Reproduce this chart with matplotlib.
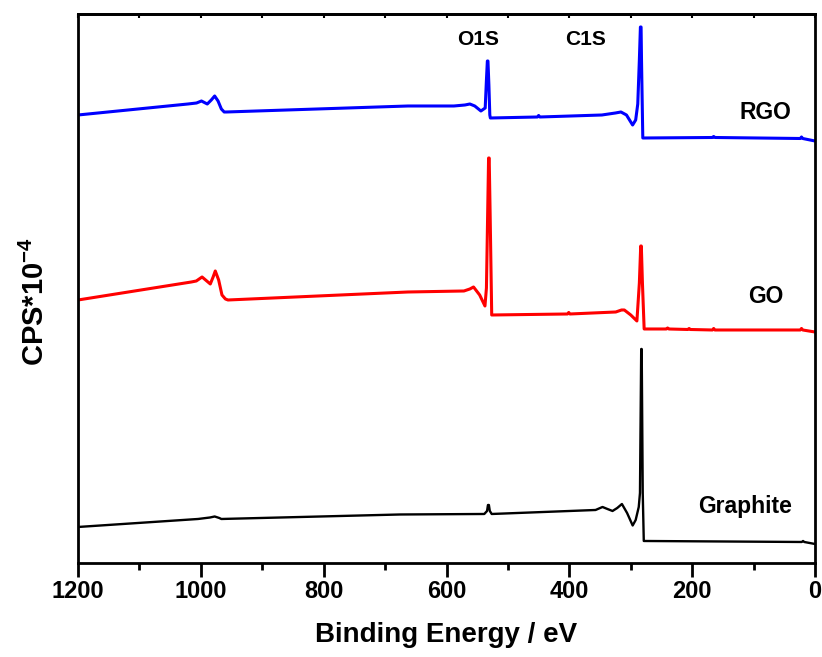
import matplotlib
matplotlib.use("Agg")
import matplotlib.pyplot as plt
from matplotlib.ticker import MultipleLocator

plt.rcParams["font.family"] = ["Liberation Sans", "DejaVu Sans"]
plt.rcParams["font.weight"] = "bold"
plt.rcParams["mathtext.fontset"] = "custom"
plt.rcParams["mathtext.rm"] = "Liberation Sans:bold"
plt.rcParams["mathtext.bf"] = "Liberation Sans:bold"
plt.rcParams["mathtext.default"] = "bf"

# XPS survey spectra, stacked (binding energy in eV, intensity in plot units)
rgo_energy = [1200, 1021, 1007, 999, 989.5, 983, 977.5, 972, 966.6, 962, 958.5, 662.7,
              588, 570, 562, 554, 544, 537, 535, 533.5, 532.5, 531, 529.5, 528.6, 452, 450,
              448, 347, 325, 316, 307, 297, 292, 288.6, 286, 284.3, 283.2, 282.5, 280.4,
              167, 165, 163, 24, 22, 20, 0]
rgo_counts = [44.8, 45.9, 46.0, 46.2, 45.9, 46.3, 46.7, 46.2, 45.4, 45.1, 45.1, 45.7,
              45.7, 45.8, 45.9, 45.7, 45.2, 45.5, 48.3, 50.2, 50.2, 47.8, 44.8, 44.5, 44.6,
              44.75, 44.6, 44.8, 45.0, 45.1, 44.8, 43.8, 44.3, 45.9, 50.3, 53.6, 53.6, 50.3,
              42.5, 42.55, 42.65, 42.55, 42.45, 42.6, 42.45, 42.2]

go_energy = [1200, 1015.5, 1007.4, 998, 984.6, 980, 976.5, 971, 965.6, 960, 955.8, 662.7,
             571.6, 562, 556, 546, 537.4, 535, 531.5, 530.5, 529, 526.4, 403, 401, 399,
             324.4, 315, 310.5, 300, 290, 286, 283.8, 282.8, 281, 278.2, 242, 240, 238,
             207, 205, 203, 167, 165, 163, 24, 22, 20, 0]
go_counts = [26.3, 28.1, 28.2, 28.6, 27.9, 28.6, 29.2, 28.3, 26.8, 26.4, 26.3, 27.1,
             27.2, 27.4, 27.6, 26.8, 25.7, 27.5, 40.5, 40.5, 35.0, 24.8, 24.9, 25.05, 24.9,
             25.1, 25.3, 25.3, 24.8, 24.2, 28.0, 31.7, 31.7, 28.0, 23.4, 23.4, 23.5, 23.4,
             23.35, 23.45, 23.35, 23.3, 23.45, 23.3, 23.3, 23.45, 23.3, 23.1]

graphite_energy = [1200, 1004.6, 985, 977.5, 970, 966.6, 675.7, 538.5, 534, 532.5, 531,
                   529.5, 526.4, 357.3, 346, 338, 329.7, 322, 314.4, 306, 296.9, 292, 287,
                   285, 283, 282.2, 280.5, 278.8, 21.5, 19.5, 17.5, 0]
graphite_counts = [3.6, 4.4, 4.55, 4.65, 4.5, 4.4, 4.85, 4.9, 5.2, 5.8, 5.8,
                   5.2, 4.9, 5.3, 5.6, 5.4, 5.2, 5.5, 5.9, 5.0, 3.75, 4.3, 5.6,
                   7.0, 21.4, 21.4, 7.0, 2.2, 2.1, 2.2, 2.1, 1.9]

spectra = [
    ("Graphite", graphite_energy, graphite_counts, "black", 1.7),
    ("GO", go_energy, go_counts, "#ff0000", 2.2),
    ("RGO", rgo_energy, rgo_counts, "#0000ff", 2.2),
]

sample_labels = ["RGO", "GO", "Graphite"]
label_energy = [80, 80, 114]
label_counts = [45.0, 26.6, 5.6]
peak_labels = ["O1S", "C1S"]
peak_label_energy = [548, 374]
peak_label_counts = [52.3, 52.3]

fig = plt.figure(figsize=(8.22, 6.57), dpi=100)
ax = fig.add_axes([0.0949, 0.1431, 0.8966, 0.8356])

for name, energy, counts, color, width in spectra:
    ax.plot(energy, counts, color=color, lw=width, solid_joinstyle="round",
            solid_capstyle="round")

for text, x, y in zip(sample_labels, label_energy, label_counts):
    ax.text(x, y, text, ha="center", va="center", fontsize=16.5, fontweight="bold")
for text, x, y in zip(peak_labels, peak_label_energy, peak_label_counts):
    ax.text(x, y, text, ha="center", va="center", fontsize=15, fontweight="bold")

ax.set_xlim(1200, 0)
ax.set_ylim(0, 54.9)
ax.xaxis.set_major_locator(MultipleLocator(200))
ax.xaxis.set_minor_locator(MultipleLocator(100))
ax.tick_params(axis="x", which="major", direction="out", length=10, width=2,
               labelsize=17, pad=2)
ax.tick_params(axis="x", which="minor", direction="out", length=5, width=2)
ax.set_yticks([])

# short inward ticks mirrored on the top edge
top = ax.secondary_xaxis("top")
top.xaxis.set_major_locator(MultipleLocator(100))
top.tick_params(axis="x", which="major", direction="in", length=3, width=1.5,
                labeltop=False)
top.tick_params(axis="x", which="minor", length=0)
top.spines["top"].set_linewidth(2)

for spine in ax.spines.values():
    spine.set_linewidth(2)

for label in ax.get_xticklabels():
    label.set_fontweight("bold")

ax.set_xlabel("Binding Energy / eV", fontsize=20, fontweight="bold", labelpad=14)
fig.text(35 / 822, 1 - 302 / 657, r"CPS*10$^{-4}$", rotation=90, ha="center",
         va="center", fontsize=21, fontweight="bold")

fig.savefig("out.png", dpi=100)
